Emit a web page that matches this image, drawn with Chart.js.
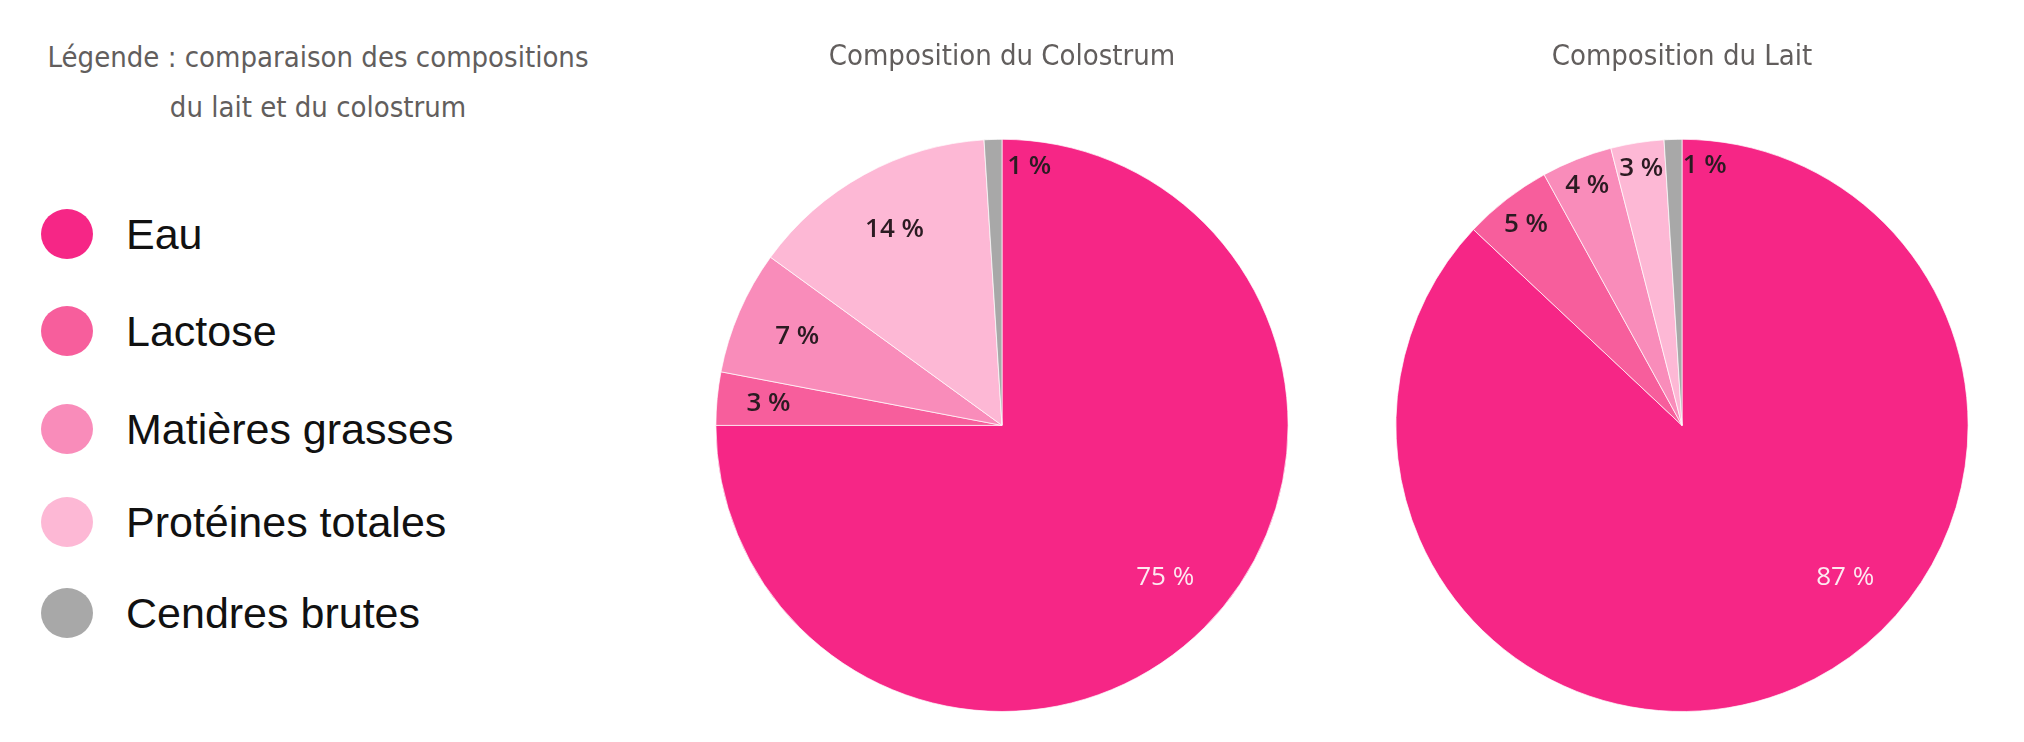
<!DOCTYPE html>
<html lang="fr">
<head>
<meta charset="utf-8">
<title>Composition du colostrum et du lait</title>
<script src="https://cdn.jsdelivr.net/npm/chart.js@4.4.1/dist/chart.umd.min.js"></script>
<style>
    html, body { margin: 0; padding: 0; background: #fff; }
    body { width: 2024px; height: 742px; position: relative; overflow: hidden; }
    .legend-title {
        position: absolute; left: 18px; top: 32px; width: 600px;
        text-align: center; color: #625e5d; white-space: nowrap;
        font: 29px/50px 'DejaVu Sans Condensed', 'DejaVu Sans', sans-serif;
    }
    .legend { position: absolute; left: 0; top: 0; }
    .legend-item {
        position: absolute; left: 41px; height: 52px;
        display: flex; align-items: center; white-space: nowrap;
    }
    .legend-item .dot { flex: 0 0 auto; width: 52px; height: 50px; border-radius: 50%; }
    .legend-item span {
        margin-left: 33px; color: #111;
        font: 43px 'Liberation Sans', Arial, sans-serif;
    }
    .chart-box { position: absolute; top: 0; width: 604px; height: 742px; }
</style>
</head>
<body>

<div class="legend-title">Légende : comparaison des compositions<br>du lait et du colostrum</div>
<div class="legend" id="legend"></div>

<div class="chart-box" style="left:700px"><canvas id="chartColostrum"></canvas></div>
<div class="chart-box" style="left:1380px"><canvas id="chartLait"></canvas></div>

<script>
// Categories and values (%)
const categories = ['Eau', 'Lactose', 'Matières grasses', 'Protéines totales', 'Cendres brutes'];
const colostrum = [75, 3, 7, 14, 1];
const lait = [87, 5, 4, 3, 1];
const sliceColors = ['#f62686', '#f75e9c', '#f98cba', '#fdb8d5', '#a8a8a8'];

// HTML legend built from the same arrays
const legendEl = document.getElementById('legend');
const legendTops = [208, 305, 403, 496, 587];
categories.forEach((name, i) => {
    const item = document.createElement('div');
    item.className = 'legend-item';
    item.style.top = legendTops[i] + 'px';
    item.innerHTML = '<div class="dot" style="background:' + sliceColors[i] + '"></div><span>' + name + '</span>';
    legendEl.appendChild(item);
});

// Draw "xx %" labels on slices, placement per slice can be tweaked
const sliceLabels = {
    id: 'sliceLabels',
    afterDatasetsDraw(chart, args, opts) {
        const ctx = chart.ctx;
        const meta = chart.getDatasetMeta(0);
        const values = chart.data.datasets[0].data;
        ctx.save();
        ctx.textAlign = 'center';
        ctx.textBaseline = 'middle';
        meta.data.forEach((arc, i) => {
            const p = arc.getProps(['x', 'y', 'startAngle', 'endAngle', 'outerRadius'], true);
            const place = (opts.place && opts.place[i]) || {};
            let angle = (p.startAngle + p.endAngle) / 2;
            if (place.angle !== undefined) angle = (place.angle - 90) * Math.PI / 180;
            const r = p.outerRadius * (place.r || opts.r);
            const light = i === 0;
            ctx.fillStyle = light ? '#fde9f1' : '#2b1b22';
            ctx.font = (light ? '400 ' : '600 ') + '26px "Open Sans", sans-serif';
            ctx.fillText(values[i] + ' %', p.x + Math.cos(angle) * r, p.y + Math.sin(angle) * r);
        });
        ctx.restore();
    }
};

function makePie(id, title, values, place) {
    return new Chart(document.getElementById(id), {
        type: 'pie',
        data: {
            labels: categories,
            datasets: [{
                data: values,
                backgroundColor: sliceColors,
                borderColor: 'rgba(255,255,255,0.7)',
                borderWidth: 1
            }]
        },
        options: {
            responsive: true,
            maintainAspectRatio: false,
            animation: false,
            layout: { padding: { bottom: 30 } },
            plugins: {
                legend: { display: false },
                tooltip: { enabled: false },
                title: {
                    display: true,
                    text: title,
                    color: '#625e5d',
                    font: { family: "'DejaVu Sans Condensed', 'DejaVu Sans', sans-serif", size: 29, weight: 'normal' },
                    padding: { top: 40, bottom: 64 }
                },
                sliceLabels: { r: 0.78, place: place }
            }
        },
        plugins: [sliceLabels]
    });
}

makePie('chartColostrum', 'Composition du Colostrum', colostrum, {
    0: { angle: 133 },
    1: { r: 0.82 },
    4: { angle: 6, r: 0.91 }
});

makePie('chartLait', 'Composition du Lait', lait, {
    0: { angle: 133 },
    1: { r: 0.89 },
    2: { r: 0.90 },
    3: { r: 0.91 },
    4: { angle: 5, r: 0.91 }
});
</script>
</body>
</html>
